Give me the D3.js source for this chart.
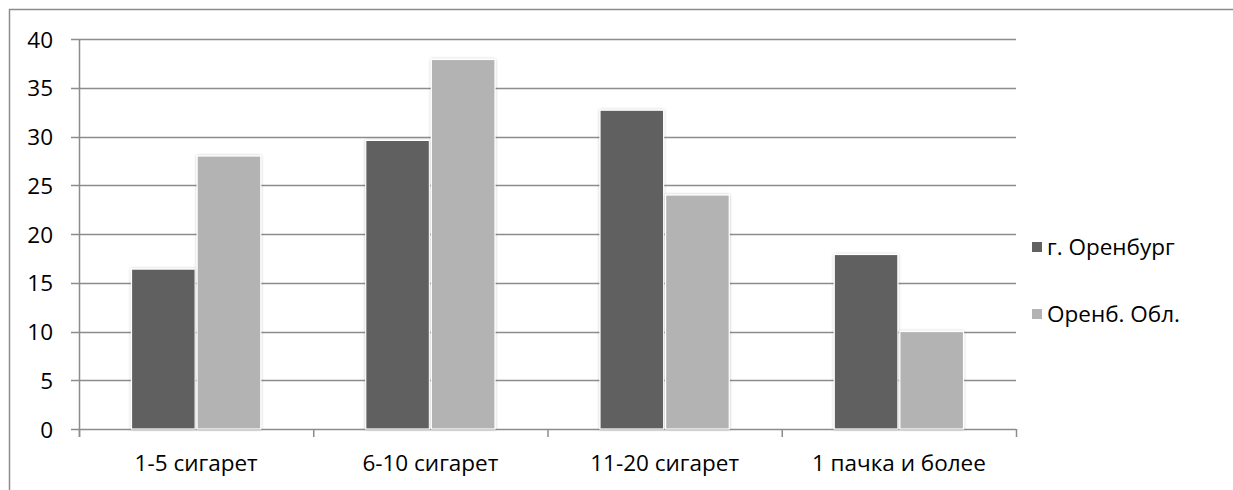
<!DOCTYPE html>
<html><head><meta charset="utf-8">
<script src="https://cdn.jsdelivr.net/npm/d3@7/dist/d3.min.js"></script>
<style>html,body{margin:0;padding:0;background:#fff;}svg{display:block;font-family:"Open Sans","Noto Sans",sans-serif;}</style>
</head><body>
<script>
const categories = ["1-5 сигарет", "6-10 сигарет", "11-20 сигарет", "1 пачка и более"];
const seriesNames = ["г. Оренбург", "Оренб. Обл."];
const orenburgCity = [16.4, 29.6, 32.7, 17.9];
const orenburgRegion = [28, 37.9, 24, 10];
const yTicks = [0, 5, 10, 15, 20, 25, 30, 35, 40];
const colors = ["#616161", "#b3b3b3"];

const W = 1233, H = 490;
const FS = 22.5;
const svg = d3.select("body").append("svg").attr("width", W).attr("height", H);

const defs = svg.append("defs");
const f = defs.append("filter").attr("id","sh").attr("x","-20%").attr("y","-20%").attr("width","140%").attr("height","140%");
f.append("feGaussianBlur").attr("in","SourceAlpha").attr("stdDeviation",1.6).attr("result","b");
f.append("feComponentTransfer").attr("in","b").attr("result","b2").append("feFuncA").attr("type","linear").attr("slope",0.25);
const m = f.append("feMerge"); m.append("feMergeNode").attr("in","b2"); m.append("feMergeNode").attr("in","SourceGraphic");

// chart border
svg.append("rect").attr("x",9.5).attr("y",9.5).attr("width",1240).attr("height",500)
  .attr("fill","none").attr("stroke","#8c8c8c").attr("stroke-width",1.5);

const x0 = 79, x1 = 1016, yTop = 39, yBot = 429;
const y = d3.scaleLinear().domain([0,40]).range([yBot, yTop]);
const x = d3.scaleBand().domain(categories).range([x0, x1]).padding(0);
const xs = d3.scaleBand().domain([0,1]).range([0, x.bandwidth()]).paddingInner(0.03).paddingOuter(0.8);

// grid
svg.append("g").selectAll("line").data(yTicks).join("line")
  .attr("x1", 71).attr("x2", x1).attr("y1", d=>Math.round(y(d))+0.5).attr("y2", d=>Math.round(y(d))+0.5)
  .attr("stroke","#8c8c8c").attr("stroke-width",1.5);

// y axis
const yAxis = d3.axisLeft(y).tickValues(yTicks).tickSize(0).tickPadding(0);
const gy = svg.append("g").attr("transform","translate(53,0)").call(yAxis);
gy.select(".domain").remove();
gy.attr("font-size",FS).attr("font-family","'Open Sans',sans-serif");
gy.selectAll("text").attr("fill","#000").attr("dy","0.36em");

svg.append("line").attr("x1",x0+0.5).attr("x2",x0+0.5).attr("y1",yTop).attr("y2",437)
  .attr("stroke","#8c8c8c").attr("stroke-width",1.5);

// x axis ticks
const bounds = categories.map(c=>x(c)).concat([x1]);
svg.append("g").selectAll("line").data(bounds).join("line")
  .attr("x1", d=>d+0.5).attr("x2", d=>d+0.5).attr("y1", yBot).attr("y2", 437)
  .attr("stroke","#8c8c8c").attr("stroke-width",1.5);

const xAxis = d3.axisBottom(x).tickSize(0).tickPadding(0);
const gx = svg.append("g").attr("transform",`translate(0,${yBot})`).call(xAxis);
gx.select(".domain").remove();
gx.attr("font-size",FS).attr("font-family","'Open Sans',sans-serif");
gx.selectAll("text").attr("fill","#000").attr("dy",0).attr("y",42);

// bars
const series = [orenburgCity, orenburgRegion];
series.forEach((vals, si) => {
  svg.append("g").selectAll("rect").data(categories).join("rect")
    .attr("x", c => x(c) + xs(si))
    .attr("width", xs.bandwidth())
    .attr("y", (c,i) => y(vals[i]))
    .attr("height", (c,i) => y(0) - y(vals[i]))
    .attr("fill", colors[si])
    .attr("stroke","#fff").attr("stroke-width",1.2)
    .attr("filter","url(#sh)");
});

// legend
const lg = svg.append("g");
const ly = [247, 314];
seriesNames.forEach((n,i)=>{
  lg.append("rect").attr("x",1032).attr("y",ly[i]-5).attr("width",10).attr("height",10).attr("fill",colors[i]);
  lg.append("text").attr("x",1047).attr("y",ly[i]).attr("dy","0.36em").attr("font-size",FS).attr("fill","#000").text(n);
});
</script>
</body></html>
